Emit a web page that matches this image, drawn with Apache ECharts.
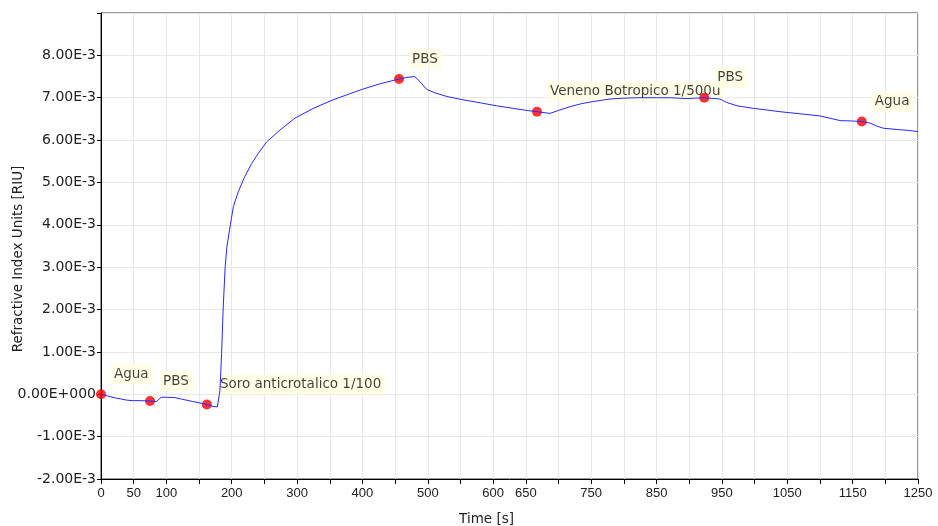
<!DOCTYPE html>
<html>
<head>
<meta charset="utf-8">
<script src="https://cdn.jsdelivr.net/npm/echarts@6/dist/echarts.min.js"></script>
<style>html,body{margin:0;padding:0;background:#fff}#c{width:938px;height:526px}</style>
</head>
<body>
<div id="c"></div>
<script>
// Sensorgram trace: time [s] and refractive index change (units of 1E-3 RIU)
var traceTime = [0,10,20,30,40,50,60,75,85,92,100,113,125,140,150,162,170,178,179.5,182,184.5,187,190,192.6,197.4,202.5,210,220,230.6,240.8,253.6,274,297,325,355,380,400,427,445,456,468,480,488,498,510,529,554,580,605,630,651,667,687,700,718,735,753,779,800,820,850,871,896,910,923,947,957,973,998,1039,1070,1100,1131,1150,1164,1177,1187,1197,1218,1235,1250];
var traceValue = [0,-0.04,-0.08,-0.11,-0.14,-0.15,-0.15,-0.16,-0.17,-0.07,-0.07,-0.08,-0.12,-0.17,-0.20,-0.24,-0.28,-0.30,-0.26,0.09,0.96,2.06,3.01,3.48,3.95,4.43,4.78,5.14,5.45,5.69,5.96,6.24,6.52,6.75,6.95,7.09,7.20,7.33,7.40,7.44,7.48,7.50,7.38,7.20,7.12,7.03,6.95,6.88,6.81,6.75,6.70,6.67,6.63,6.70,6.79,6.86,6.91,6.97,6.99,7.00,7.00,7.00,6.98,6.99,7.00,6.97,6.89,6.81,6.75,6.67,6.62,6.57,6.46,6.45,6.44,6.40,6.33,6.28,6.25,6.23,6.20];

// Injection events
var eventTime = [0, 75, 162, 456, 667, 923, 1164];
var eventValue = [0, -0.16, -0.24, 7.44, 6.67, 7.00, 6.44];
var eventLabel = ['Agua', 'PBS', 'Soro anticrotalico 1/100', 'PBS', 'Veneno Botropico 1/500u', 'PBS', 'Agua'];

// Tick labels
var xTickLabels = [0, 50, 100, 200, 300, 400, 500, 600, 650, 750, 850, 950, 1050, 1150, 1250];
var yTickValues = [-2, -1, 0, 1, 2, 3, 4, 5, 6, 7, 8];
var yTickLabels = ['-2.00E-3', '-1.00E-3', '0.00E+000', '1.00E-3', '2.00E-3', '3.00E-3', '4.00E-3', '5.00E-3', '6.00E-3', '7.00E-3', '8.00E-3'];

var traceData = traceTime.map(function (t, i) { return [t, traceValue[i]]; });
var eventData = eventTime.map(function (t, i) { return [t, eventValue[i], eventLabel[i]]; });

var chart = echarts.init(document.getElementById('c'), null, { renderer: 'canvas' });
chart.setOption({
  animation: false,
  backgroundColor: '#ffffff',
  grid: { left: 101, right: 20, top: 13, bottom: 47, show: true, borderColor: '#333333', borderWidth: 1, containLabel: false, outerBoundsMode: 'none' },
  xAxis: {
    type: 'value', min: 0, max: 1250, interval: 50,
    name: 'Time [s]', nameLocation: 'middle', nameGap: 33, nameMoveOverlap: false,
    nameTextStyle: { fontFamily: 'DejaVu Sans', fontSize: 13.5, color: '#222', padding: [0, 46, 0, 0] },
    axisLine: { show: true, onZero: false, lineStyle: { color: '#000', width: 1 } },
    axisTick: { show: true, length: 5, lineStyle: { color: '#000' } },
    axisLabel: {
      fontFamily: 'Liberation Sans', fontSize: 13, color: '#222', margin: 8, showMinLabel: true, showMaxLabel: true, hideOverlap: false,
      formatter: function (v) { var r = Math.round(v); return xTickLabels.indexOf(r) >= 0 ? String(r) : ''; }
    },
    splitLine: { show: true, lineStyle: { color: '#e8e8e8', width: 1 } }
  },
  yAxis: {
    type: 'value', min: -2, max: 9, interval: 1,
    name: 'Refractive Index Units [RIU]', nameLocation: 'middle', nameGap: 76, nameRotate: 90, nameMoveOverlap: false,
    nameTextStyle: { fontFamily: 'DejaVu Sans', fontSize: 13.5, color: '#222', padding: [0, 26, 0, 0] },
    axisLine: { show: true, onZero: false, lineStyle: { color: '#000', width: 1 } },
    axisTick: { show: true, length: 4, lineStyle: { color: '#000' } },
    axisLabel: {
      fontFamily: 'DejaVu Sans', fontSize: 14, color: '#222', margin: 5, showMaxLabel: true,
      formatter: function (v) { var i = yTickValues.indexOf(Math.round(v)); return i >= 0 ? yTickLabels[i] : ''; }
    },
    splitLine: { show: true, lineStyle: { color: '#e8e8e8', width: 1 } }
  },
  series: [
    {
      type: 'scatter', z: 1, data: eventData, symbolSize: 10,
      itemStyle: { color: 'transparent' },
      label: {
        show: true, position: [15, -5], align: 'left', verticalAlign: 'bottom',
        formatter: function (p) { return p.data[2]; },
        fontFamily: 'DejaVu Sans', fontSize: 13.5, color: '#111',
        backgroundColor: '#ffffe1', padding: [3, 4, 3, 3]
      },
      silent: true
    },
    {
      type: 'scatter', z: 2, data: eventData, symbolSize: 10,
      itemStyle: { color: '#ff0000' }, label: { show: false }, silent: true
    },
    {
      type: 'line', z: 3, data: traceData, showSymbol: false, symbol: 'none',
      lineStyle: { color: '#2828ff', width: 1 }, silent: true
    }
  ]
});
</script>
</body>
</html>
